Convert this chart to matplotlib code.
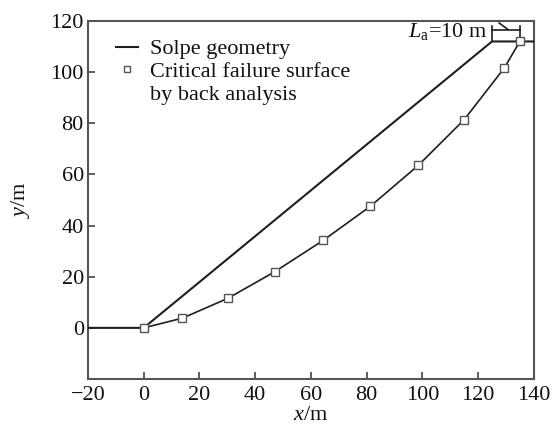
import matplotlib
matplotlib.use("Agg")
import matplotlib.pyplot as plt
from matplotlib.lines import Line2D

plt.rcParams['font.family'] = ['Liberation Serif', 'DejaVu Serif']
plt.rcParams['mathtext.fontset'] = 'custom'
plt.rcParams['mathtext.rm'] = 'Liberation Serif'
plt.rcParams['mathtext.it'] = 'Liberation Serif:italic'

# Slope profile (ground surface)
slope_x = [-20, 0, 125, 140]
slope_y = [0, 0, 112, 112]

# Critical failure surface from back analysis
fail_x = [0, 13.9, 30.3, 47.1, 64.4, 81.3, 98.5, 115.0, 129.4, 135.0]
fail_y = [0, 3.8, 11.6, 22.0, 34.2, 47.5, 63.5, 81.4, 101.6, 112.0]

x_ticks = [-20, 0, 20, 40, 60, 80, 100, 120, 140]
y_ticks = [0, 20, 40, 60, 80, 100, 120]

# Tension-crack width annotation
crack_x0, crack_x1 = 125, 135
crack_label = r'$L_\mathrm{a}$=10 m'

FS = 16

fig = plt.figure(figsize=(5.52, 4.26), dpi=100)
ax = fig.add_axes([0.1594, 0.1103, 0.8076, 0.8404])

line_col = '#1e1e1e'
ax.plot(slope_x, slope_y, color=line_col, lw=1.5, zorder=3)
ax.plot(fail_x, fail_y, color=line_col, lw=1.2, marker='s', ms=5.5,
        mfc='white', mec='#555555', mew=1.0, zorder=4)

# dimension bracket for the crack width
top = 112
ax.plot([crack_x0, crack_x0], [top, 118], color=line_col, lw=1.2, zorder=3)
ax.plot([crack_x1, crack_x1], [top, 118], color=line_col, lw=1.2, zorder=3)
ax.plot([crack_x0, crack_x1], [116.3, 116.3], color=line_col, lw=1.2, zorder=3)
ax.plot([127.6, 130.6], [119.2, 116.8], color=line_col, lw=1.2, zorder=3)
ax.text(crack_x0 - 1.5, 115.8, crack_label, ha='right', va='center',
        fontsize=FS, color='#111111')

ax.set_xlim(-20, 140)
ax.set_ylim(-20, 120)
ax.set_xticks(x_ticks)
ax.set_yticks(y_ticks)
ax.set_xticklabels([str(v).replace('-', '\u2212') for v in x_ticks])
ax.tick_params(direction='in', length=5, width=1.1, labelsize=FS,
               colors='#333333', labelcolor='#111111', pad=3)
ax.tick_params(axis='x', pad=5)
for s in ax.spines.values():
    s.set_color('#555555')
    s.set_linewidth(1.5)

ax.set_xlabel(r'$x$/m', fontsize=FS, labelpad=0.5, color='#111111')
ax.set_ylabel(r'$y$/m', fontsize=FS, labelpad=13, color='#111111')

handles = [
    Line2D([], [], color=line_col, lw=1.5),
    Line2D([], [], ls='none', marker='s', ms=4.5, mfc='white', mec='#555555', mew=1.0),
    Line2D([], [], ls='none'),
]
labels = ['Solpe geometry', 'Critical failure surface', 'by back analysis']
leg = ax.legend(handles, labels, loc='upper left', bbox_to_anchor=(0.042, 0.975),
                frameon=False, fontsize=FS, handlelength=1.0, handletextpad=0.55,
                labelspacing=0.1, borderaxespad=0)
for t in leg.get_texts():
    t.set_color('#111111')

fig.savefig('out.png', dpi=100)
